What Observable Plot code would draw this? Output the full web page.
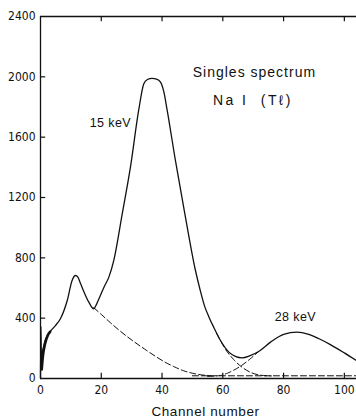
<!DOCTYPE html>
<html>
<head>
<meta charset="utf-8">
<script src="https://cdn.jsdelivr.net/npm/d3@7"></script>
<script src="https://cdn.jsdelivr.net/npm/@observablehq/plot@0.6"></script>
<style>
  html, body { margin: 0; padding: 0; background: #fff; }
  svg { display: block; }
  .num text { font-family: 'DejaVu Sans Condensed', 'DejaVu Sans', sans-serif; font-stretch: condensed; }
</style>
</head>
<body>
<div id="chart"></div>
<script>
// Measured spectrum (solid line)
const solidChannel = [0, 0.15, 0.3, 0.6, 1.0, 1.5, 2.2, 3.3, 4.9, 6.6, 8.8, 10.4, 11.5, 12.3, 13.2, 15.9, 17.5, 18.5, 19.7, 21, 22.5, 24.1, 26.9, 29.6, 32.3, 34, 35.2, 36.7, 38.2, 39.5, 40.6, 41.7, 44.4, 47.7, 51, 52.5, 54, 55.5, 57, 59, 62, 64.3, 66.3, 69, 71.8, 75.7, 80, 84.4, 88, 91.5, 95.4, 100, 104];
const solidCounts  = [0, 345, 90, 170, 210, 250, 285, 314, 351, 398, 517, 650, 683, 672, 628, 506, 462, 495, 550, 610, 672, 782, 1092, 1401, 1777, 1954, 1982, 1990, 1985, 1965, 1900, 1777, 1446, 1070, 716, 590, 480, 405, 340, 260, 175, 145, 137, 152, 179, 241, 292, 307, 295, 265, 225, 170, 119];
// noisy thick part near channel 0
const noiseChannel = [0.4, 0.8, 1.5, 2.5, 3.2];
const noiseCounts  = [60, 150, 230, 290, 310];
// dashed decompositions
const tailLowChannel = [17.5, 20, 23, 26, 30.7, 35, 38, 41, 44, 47, 50, 53, 56];
const tailLowCounts  = [470, 425, 370, 318, 245, 185, 145, 108, 78, 52, 35, 24, 19];
const tail15Channel = [58, 59, 61, 63.6, 66.3, 69, 72.4, 76];
const tail15Counts  = [298, 260, 190, 125, 75, 42, 22, 17];
const rise28Channel = [55, 59.2, 61.5, 63.6, 66.3, 69, 71.8];
const rise28Counts  = [14, 20, 35, 55, 88, 130, 179];
const baseChannel = [50, 104];
const baseCounts  = [18, 18];

const xTicks = [0, 20, 40, 60, 80, 100];
const yTicks = [0, 400, 800, 1200, 1600, 2000, 2400];

const toRows = (xs, ys) => xs.map((x, i) => ({x, y: ys[i]}));
const solid = toRows(solidChannel, solidCounts);
const noise = toRows(noiseChannel, noiseCounts);
const tailLow = toRows(tailLowChannel, tailLowCounts);
const tail15 = toRows(tail15Channel, tail15Counts);
const rise28 = toRows(rise28Channel, rise28Counts);
const base = toRows(baseChannel, baseCounts);

const txtFont = "'Liberation Sans', 'DejaVu Sans', sans-serif";
const dash = {stroke: "#111", strokeWidth: 1, strokeDasharray: "6,3", curve: "monotone-x"};

const chart = Plot.plot({
  width: 356,
  height: 419,
  marginLeft: 40,
  marginRight: 0,
  marginTop: 16,
  marginBottom: 41,
  style: {fontFamily: txtFont, fontSize: "12px", color: "#111", background: "#fff"},
  x: {domain: [0, 104], ticks: xTicks},
  y: {domain: [0, 2400], ticks: yTicks},
  marks: [
    Plot.axisY({ticks: yTicks, tickSize: 0, tickPadding: 5, fontSize: 12, label: null, tickFormat: d => String(d), className: "num"}),
    Plot.axisX({ticks: xTicks, tickSize: 0, tickPadding: 7, fontSize: 12, label: null, tickFormat: d => String(d), className: "num"}),
    // frame
    Plot.ruleX([0], {y1: 0, y2: 2400, stroke: "#111", strokeWidth: 1.3}),
    Plot.ruleY([0], {x1: 0, x2: 104, stroke: "#111", strokeWidth: 1.3}),
    Plot.ruleY([2400], {x1: 0, x2: 104, stroke: "#111", strokeWidth: 1.3}),
    // inward ticks
    Plot.ruleY(yTicks.slice(1, -1), {x1: 0, x2: 1.7, stroke: "#111", strokeWidth: 1.2}),
    Plot.ruleX(xTicks.slice(1), {y1: 0, y2: 35, stroke: "#111", strokeWidth: 1.2}),
    Plot.ruleX(xTicks.slice(1), {y1: 2400, y2: 2365, stroke: "#111", strokeWidth: 1.2}),
    // dashed components
    Plot.line(tailLow, {x: "x", y: "y", ...dash}),
    Plot.line(tail15, {x: "x", y: "y", ...dash}),
    Plot.line(rise28, {x: "x", y: "y", ...dash}),
    Plot.line(base, {x: "x", y: "y", ...dash}),
    // measured spectrum
    Plot.line(solid, {x: "x", y: "y", stroke: "#111", strokeWidth: 1.3, curve: "monotone-x"}),
    Plot.line(noise, {x: "x", y: "y", stroke: "#111", strokeWidth: 2.6, curve: "monotone-x"}),
    // annotations
    Plot.text(["Singles spectrum"], {x: 70.4, y: 2031, fontSize: 14, fill: "#111"}),
    Plot.text(["Na I  (Tℓ)"], {x: 69.9, y: 1843, fontSize: 14, fill: "#111"}),
    Plot.text(["15 keV"], {x: 23, y: 1691, fontSize: 12.5, fill: "#111"}),
    Plot.text(["28 keV"], {x: 83.9, y: 405, fontSize: 12.5, fill: "#111"}),
    Plot.text(["Channel number"], {x: 54.3, frameAnchor: "bottom", dy: 37, fontSize: 13.5, fill: "#111"})
  ]
});
const spacing = {"Singles spectrum": "1", "Channel number": "0.6", "Na I  (Tℓ)": "2.4", "15 keV": "0.4", "28 keV": "0.4"};
chart.querySelectorAll("text").forEach(t => {
  const s = t.textContent;
  if (spacing[s]) t.setAttribute("letter-spacing", spacing[s]);
});
document.getElementById("chart").appendChild(chart);
</script>
</body>
</html>
